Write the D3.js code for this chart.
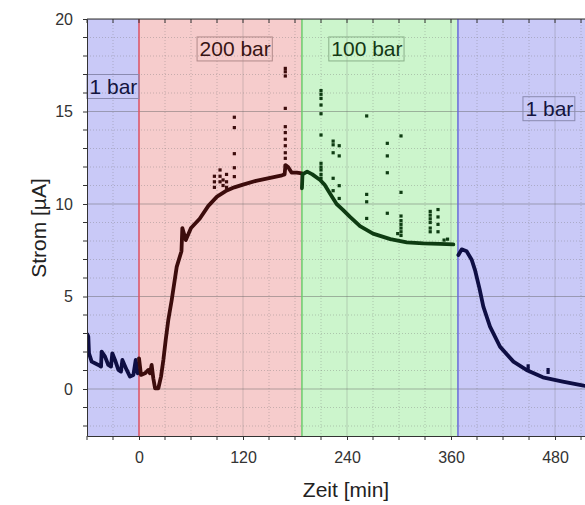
<!DOCTYPE html>
<html>
<head>
<meta charset="utf-8">
<script src="https://cdn.jsdelivr.net/npm/d3@7"></script>
<style>
  html, body { margin: 0; padding: 0; background: #fff; }
  svg { display: block; }
  text { font-family: "Liberation Sans", Arial, sans-serif; }
</style>
</head>
<body>
<svg id="chart" width="585" height="505"></svg>
<script>
// ---------- data ----------
const xTicks = [0, 120, 240, 360, 480];
const yTicks = [0, 5, 10, 15, 20];

// pressure phases [start, end] in minutes
const phaseNames  = ["1 bar", "200 bar", "100 bar", "1 bar"];
const phaseStarts = [-60, 0, 188, 368];
const phaseEnds   = [0, 188, 368, 520];

// current trace, split by phase: [time (min), current (µA)]
const trace1bar = [
  [-59.5,2.95],[-58.5,2.83],[-57.7,1.93],[-54.6,1.48],[-50.8,1.39],[-46.9,1.3],[-43.8,1.21],
  [-43.1,2.02],[-39.2,1.75],[-35.4,1.3],[-32.3,1.21],[-30.8,1.93],[-27.7,1.57],[-23.8,1.03],
  [-20.8,0.94],[-19.2,1.57],[-14.2,1.03],[-10.4,0.67],[-6.5,0.76],[-3.8,1.57],[-1.5,0.85],[0,0.9]
];
const trace200bar = [
  [0,1.66],[2.3,0.76],[6.9,0.85],[10.8,1.03],[12.7,0.85],[14.6,1.3],[16.5,0.58],[18.5,0.04],
  [22.3,0.04],[25.4,0.67],[28.1,1.57],[30.8,2.65],[33.8,3.73],[37.7,4.8],[43.5,6.6],[49,7.45],
  [50,8.7],[54,8.05],[60,8.7],[70,9.2],[80,9.9],[90,10.4],[100,10.7],[110,10.9],[120,11.05],
  [135,11.25],[150,11.4],[165,11.55],[168,11.6],[169,12.1],[172,12.0],[176,11.7],[182,11.7],[188,11.66]
];
const trace100bar = [
  [188,10.85],[188.6,11.6],[194,11.75],[200,11.6],[209,11.3],[214,11.05],[220,10.6],[228,10.0],
  [235,9.7],[243.5,9.3],[255,8.8],[270,8.4],[290,8.1],[309,7.93],[328,7.87],[347,7.84],[362.7,7.82]
];
const trace1barEnd = [
  [368.5,7.24],[372.3,7.55],[378,7.45],[384,6.97],[387.7,6.43],[393,5.4],[397.3,4.45],[405,3.37],
  [416.5,2.29],[432,1.48],[447,1.03],[466,0.63],[489,0.4],[513,0.18],[520,0.15]
];

// isolated spikes / outlier points
const spikes200bar = [
  [110,14.69],[110,14.13],[110,12.72],[110,11.96],[110,11.48],
  [168.8,17.33],[168.8,17.15],[168.8,16.92],[168.8,15.17],[168.8,14.18],[168.8,13.86],
  [168.8,13.5],[168.8,13.15],[168.8,12.77],[168.8,12.47],[168.8,12.07],
  [87,11.2],[87,11.5],[87,10.9],[93.5,11.84],[93.5,11.5],[93.5,11.2],[97,11.3],[97,11.0],
  [101,11.6],[101,11.2],[101,10.9]
];
const spikes100bar = [
  [210,16.13],[210,15.93],[210,15.71],[210,15.35],[210,14.88],[210,13.73],[210,12.2],
  [210,12.0],[210,11.84],[210,11.6],[210,11.4],
  [224,13.4],[224,13.2],[224,12.77],[224,11.39],[224,10.72],
  [231,13.15],[231,12.6],[231,10.99],[231,10.3],
  [262.7,14.76],[262.7,10.52],[262.7,10.12],[262.7,9.22],
  [286.5,13.28],[286.5,12.6],[286.5,11.69],[286.5,9.5],
  [302.3,13.68],[302.3,10.63],[302.3,9.35],[302.3,9.1],[302.3,8.9],[302.3,8.7],[302.3,8.5],[302.3,8.3],
  [298.5,8.4],
  [336,9.6],[336,9.4],[336,9.2],[336,9.0],[336,8.7],[336,8.5],
  [345,9.7],[345,9.3],[345,8.9],[345,8.5],[356,8.1],[352,8.05]
];
const spikes1barEnd = [[449,1.25],[449,1.1],[472,1.05],[472,0.9]];

// ---------- layout ----------
(function draw() {
const svg = d3.select("#chart");
const pL = 87, pT = 19, pB = 436;
const x = d3.scaleLinear().domain([-60, 520]).range([pL, pL + 580 * 0.8667]);
const y = d3.scaleLinear().domain([-2.54, 20]).range([pB, pT]);
const pR = x(520);

const phaseFill   = ["#c9c9f7", "#f6cccc", "#ccf5cc", "#c9c9f7"];
const phaseEdge   = ["#6a6ad8", "#e0566a", "#6ccc6c", "#6a6ad8"];
const phaseText   = ["#141440", "#381414", "#143814", "#141440"];
const phaseBorder = ["#8a8ab0", "#b08a8a", "#8ab08a", "#8a8ab0"];
const traceColor  = ["#0e0e44", "#3c0c0c", "#0e3c12", "#0e0e44"];

svg.append("defs").append("clipPath").attr("id", "plotclip")
  .append("rect").attr("x", pL).attr("y", pT).attr("width", pR - pL).attr("height", pB - pT);

const plot = svg.append("g").attr("clip-path", "url(#plotclip)");

// backgrounds
phaseNames.forEach((n, i) => {
  plot.append("rect")
    .attr("x", x(phaseStarts[i])).attr("y", pT)
    .attr("width", x(phaseEnds[i]) - x(phaseStarts[i])).attr("height", pB - pT)
    .attr("fill", phaseFill[i]);
});

// grid
const minorX = d3.range(-60, 521, 30).filter(v => v % 120 !== 0);
const minorY = d3.range(-2, 21, 1).filter(v => v % 5 !== 0);
plot.selectAll(".gmx").data(minorX).join("line")
  .attr("x1", d => x(d)).attr("x2", d => x(d)).attr("y1", pT).attr("y2", pB)
  .attr("stroke", "#707070").attr("stroke-opacity", 0.35).attr("stroke-dasharray", "1,2");
plot.selectAll(".gmy").data(minorY).join("line")
  .attr("x1", pL).attr("x2", pR).attr("y1", d => y(d)).attr("y2", d => y(d))
  .attr("stroke", "#707070").attr("stroke-opacity", 0.35).attr("stroke-dasharray", "1,2");
plot.selectAll(".gX").data(xTicks).join("line")
  .attr("x1", d => x(d)).attr("x2", d => x(d)).attr("y1", pT).attr("y2", pB)
  .attr("stroke", "#707070").attr("stroke-opacity", 0.3);
plot.selectAll(".gY").data(yTicks).join("line")
  .attr("x1", pL).attr("x2", pR).attr("y1", d => y(d)).attr("y2", d => y(d))
  .attr("stroke", "#606060").attr("stroke-opacity", 0.45);

// phase boundary lines
phaseNames.forEach((n, i) => {
  if (i === 0) return;
  plot.append("line")
    .attr("x1", x(phaseStarts[i])).attr("x2", x(phaseStarts[i]))
    .attr("y1", pT).attr("y2", pB)
    .attr("stroke", phaseEdge[i]).attr("stroke-width", 1.5);
});

// traces
const traces = [trace1bar, trace200bar, trace100bar, trace1barEnd];
traces.forEach((tr, i) => {
  plot.append("path").datum(tr).attr("d", d3.line().x(d => x(d[0])).y(d => y(d[1])))
    .attr("fill", "none").attr("stroke", traceColor[i]).attr("stroke-width", 3.8)
    .attr("stroke-linejoin", "round").attr("stroke-linecap", "round");
});

// spikes
[[spikes200bar, 1], [spikes100bar, 2], [spikes1barEnd, 3]].forEach(([pts, i]) => {
  plot.selectAll(null).data(pts).join("rect")
    .attr("x", d => x(d[0]) - 1.6).attr("y", d => y(d[1]) - 1.6)
    .attr("width", 3.2).attr("height", 3.2).attr("fill", traceColor[i]);
});

// phase labels [time of box left, current of box top]
const labelAt = [[-60, 17.0], [67, 19.03], [219, 19.03], [443, 15.8]];
phaseNames.forEach((n, i) => {
  const g = svg.append("g");
  const t = g.append("text").text(n)
    .attr("x", x(labelAt[i][0]) + 2.5).attr("y", y(labelAt[i][1]) + 19)
    .attr("font-size", 21).attr("fill", phaseText[i]);
  const bb = t.node().getBBox();
  g.insert("rect", "text")
    .attr("x", x(labelAt[i][0])).attr("y", y(labelAt[i][1]))
    .attr("width", bb.width + 4).attr("height", 24)
    .attr("fill", "none").attr("stroke", phaseBorder[i]).attr("stroke-width", 1);
});

// axes
const axisColor = "#333";
const xAxis = d3.axisBottom(x).tickValues(xTicks).tickSize(4).tickPadding(12).tickSizeOuter(0);
const gx = svg.append("g").attr("transform", `translate(0,${pB})`).call(xAxis);
gx.selectAll("text").attr("font-size", 16).attr("fill", axisColor).attr("font-family", "Liberation Sans, Arial, sans-serif");
gx.select(".domain").attr("stroke", axisColor);
gx.selectAll(".tick line").attr("stroke", axisColor);
gx.selectAll(".mt").data(minorX).join("line")
  .attr("x1", d => x(d)).attr("x2", d => x(d)).attr("y1", 0).attr("y2", 4).attr("stroke", axisColor);

const yAxis = d3.axisLeft(y).tickValues(yTicks).tickSize(4).tickPadding(10).tickSizeOuter(0);
const gy = svg.append("g").attr("transform", `translate(${pL},0)`).call(yAxis);
gy.selectAll("text").attr("font-size", 16).attr("fill", axisColor).attr("font-family", "Liberation Sans, Arial, sans-serif");
gy.select(".domain").attr("stroke", axisColor);
gy.selectAll(".tick line").attr("stroke", axisColor);
gy.selectAll(".mt").data(minorY).join("line")
  .attr("x1", -4).attr("x2", 0).attr("y1", d => y(d)).attr("y2", d => y(d)).attr("stroke", axisColor);

// top border with inward ticks
const gt = svg.append("g").attr("transform", `translate(0,${pT})`);
gt.append("line").attr("x1", pL).attr("x2", pR).attr("stroke", axisColor).attr("stroke-width", 1.2);
gt.selectAll(".tt").data(xTicks.concat(minorX)).join("line")
  .attr("x1", d => x(d)).attr("x2", d => x(d)).attr("y1", 0).attr("y2", 4).attr("stroke", axisColor);

// titles
svg.append("text").text("Zeit [min]")
  .attr("x", 346).attr("y", 497).attr("text-anchor", "middle")
  .attr("font-size", 21).attr("fill", "#222");
svg.append("text").text("Strom [µA]")
  .attr("transform", "translate(46,228) rotate(-90)").attr("text-anchor", "middle")
  .attr("font-size", 21).attr("fill", "#222");
})();
</script>
</body>
</html>
